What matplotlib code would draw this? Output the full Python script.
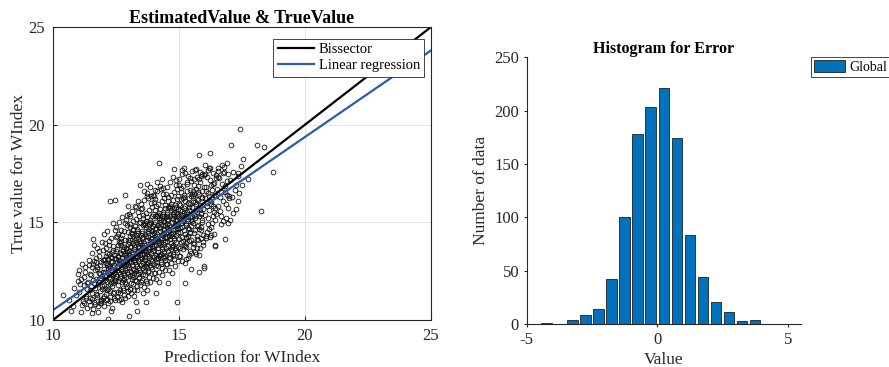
import numpy as np
import matplotlib.pyplot as plt

plt.rcParams['font.family'] = ['Liberation Serif', 'DejaVu Serif']
plt.rcParams['axes.unicode_minus'] = False

# prediction / true value pairs for WIndex
pts = """
10.40 11.28 11.00 12.37 11.55 10.34 11.45 10.77 11.32 11.11 11.49 11.74 11.85 10.89
11.59 14.16 11.74 13.70 12.29 10.46 12.17 10.03 13.01 10.20 13.35 10.48 13.70 10.94
13.30 10.92 13.04 11.60 14.93 10.92 15.22 11.91 13.57 11.40 14.10 11.40 14.56 11.91
12.27 16.09 12.48 16.14 12.85 16.38 12.97 15.84 13.46 16.89 13.75 16.95 14.04 16.64
13.72 16.35 14.20 18.05 14.80 17.71 15.13 17.68 15.20 17.80 15.62 17.66 15.87 17.37
15.78 18.45 16.24 18.55 16.21 17.80 16.54 17.80 16.91 18.02 16.74 17.54 17.07 18.98
17.43 19.80 18.10 18.98 18.37 18.86 17.53 18.26 18.75 17.56 17.35 17.51 17.28 16.89
17.51 16.89 17.72 17.22 16.65 16.55 17.00 16.35 17.36 16.11 17.14 15.49 17.03 15.12
16.94 14.98 18.26 15.56 16.83 14.16 16.41 13.79 16.28 14.37 16.08 14.32 15.59 13.87
15.72 13.70 15.29 13.11 15.48 12.59 15.81 12.47 16.00 12.76 16.00 12.65
10.62 11.05 10.78 10.71 10.85 11.62 10.93 11.30 10.70 10.45 10.98 12.02
11.05 11.42 11.12 12.10 11.18 10.95 11.22 11.78 11.27 12.45 11.31 11.21 11.36 10.62
11.40 11.95 11.44 12.80 11.48 11.55 11.08 11.86 11.15 10.78 11.25 12.20 11.33 11.60
11.42 10.98 11.47 12.35
11.03 12.55 11.10 10.40 11.17 12.85 11.23 10.85 11.29 12.70 11.35 11.90 11.41 13.05
11.46 11.15
11.52 12.30 11.55 11.40 11.58 12.85 11.61 11.92 11.63 10.90 11.66 12.55 11.68 11.65
11.70 13.20 11.72 12.10 11.74 11.20 11.76 12.72 11.78 11.85 11.80 10.70 11.82 12.40
11.84 13.55 11.86 11.50 11.88 12.15 11.90 11.05 11.92 12.95 11.94 12.25 11.96 11.75
11.98 13.05 11.53 11.10 11.57 12.05 11.64 13.00 11.69 11.35 11.75 12.60 11.81 11.95
11.87 12.80 11.91 10.85 11.95 11.60 11.99 12.45
11.53 13.45 11.58 10.55 11.62 13.85 11.67 10.80 11.71 12.95 11.77 10.40 11.83 13.30
11.89 10.95 11.93 14.00 11.97 11.15 11.56 12.70 11.73 11.30 11.85 12.35 11.99 13.60
12.02 12.60 12.04 11.80 12.06 13.10 12.08 12.25 12.10 11.35 12.12 12.90 12.14 11.95
12.16 13.45 12.18 12.40 12.20 11.60 12.22 12.75 12.24 13.85 12.26 12.10 12.28 11.20
12.30 12.55 12.32 13.25 12.34 11.75 12.36 12.95 12.38 12.30 12.40 13.60 12.42 11.45
12.44 12.70 12.46 12.05 12.48 13.15 12.03 11.25 12.07 12.45 12.11 13.70 12.15 11.55
12.19 12.85 12.23 12.20 12.27 10.95 12.31 13.00 12.35 12.50 12.39 11.90 12.43 13.35
12.47 12.15 12.05 12.05 12.09 13.30 12.13 11.10 12.17 12.65 12.21 14.05 12.25 11.85
12.29 12.35 12.33 13.50 12.37 11.40 12.41 12.80 12.45 12.00 12.49 14.25
12.01 14.40 12.04 10.70 12.08 13.95 12.12 11.05 12.16 14.55 12.19 10.85 12.23 13.40
12.27 11.50 12.31 14.20 12.35 10.60 12.39 13.80 12.43 11.15 12.47 14.60 12.02 13.05
12.06 11.65 12.14 12.80 12.20 13.10 12.26 12.65 12.32 11.95 12.38 14.95 12.44 12.40
12.48 11.00 12.12 12.30 12.36 13.20
12.51 13.10 12.52 12.25 12.54 13.65 12.55 12.70 12.57 11.80 12.58 13.30 12.60 12.45
12.61 14.00 12.63 12.90 12.64 11.55 12.66 13.45 12.67 12.15 12.69 13.85 12.70 12.60
12.72 11.95 12.73 13.20 12.75 14.35 12.76 12.80 12.78 12.05 12.79 13.55 12.81 12.40
12.82 11.30 12.84 13.00 12.85 14.10 12.87 12.55 12.88 13.70 12.90 12.20 12.91 13.35
12.93 11.70 12.94 12.95 12.96 14.50 12.97 13.15 12.99 12.35 12.53 12.95 12.56 14.30
12.59 11.45 12.62 13.05 12.65 12.35 12.68 14.60 12.71 13.40 12.74 12.50 12.77 11.65
12.80 13.75 12.83 12.85 12.86 11.95 12.89 13.25 12.92 14.85 12.95 12.65 12.98 13.90
12.52 13.55 12.58 12.00 12.64 13.95 12.70 11.10 12.76 13.65 12.82 12.30 12.88 15.10
12.94 13.50 12.99 11.50
12.51 14.75 12.54 11.20 12.57 14.40 12.60 11.00 12.63 15.00 12.66 11.40 12.69 14.20
12.72 10.90 12.75 15.25 12.78 11.55 12.81 14.55 12.84 11.15 12.87 14.95 12.90 11.85
12.93 15.40 12.96 11.25 12.99 14.10 12.53 12.55 12.59 13.85 12.65 12.85 12.71 14.05
12.77 13.00 12.83 12.10 12.89 13.65 12.95 12.45 12.57 13.25 12.69 12.25 12.81 13.40
12.93 13.05 12.99 12.80
13.01 13.55 13.02 12.70 13.04 14.10 13.05 13.20 13.07 12.25 13.08 13.80 13.10 12.95
13.11 14.45 13.13 13.40 13.14 12.10 13.16 13.95 13.17 12.60 13.19 14.30 13.20 13.05
13.22 12.40 13.23 13.65 13.25 14.80 13.26 13.25 13.28 12.50 13.29 14.00 13.31 12.85
13.32 11.75 13.34 13.45 13.35 14.55 13.37 13.00 13.38 14.15 13.40 12.65 13.41 13.75
13.43 12.15 13.44 13.35 13.46 15.00 13.47 13.60 13.49 12.80 13.03 13.40 13.06 14.75
13.09 11.90 13.12 13.50 13.15 12.80 13.18 15.05 13.21 13.85 13.24 12.95 13.27 12.05
13.30 14.20 13.33 13.30 13.36 12.35 13.39 13.70 13.42 15.35 13.45 13.10 13.48 14.35
13.02 14.00 13.08 12.45 13.14 14.40 13.20 11.55 13.26 14.10 13.32 12.75 13.38 15.55
13.44 13.95 13.49 11.95 13.05 15.30 13.17 13.15 13.29 15.80 13.41 12.55 13.13 12.30
13.35 14.65
13.01 15.45 13.04 11.60 13.07 14.90 13.10 11.40 13.13 15.60 13.16 11.85 13.19 14.65
13.22 11.25 13.25 15.85 13.28 12.00 13.31 15.15 13.34 11.55 13.37 16.10 13.40 12.20
13.43 14.95 13.46 11.80 13.49 15.70 13.02 12.95 13.06 14.30 13.11 13.25 13.16 14.60
13.21 12.55 13.26 13.75 13.31 14.35 13.36 13.55 13.41 14.05 13.46 12.45 13.04 13.75
13.18 12.20 13.27 13.05 13.39 14.45 13.48 13.25
13.51 14.00 13.52 13.15 13.54 14.55 13.55 13.60 13.57 12.65 13.58 14.25 13.60 13.40
13.61 14.90 13.63 13.85 13.64 12.50 13.66 14.40 13.67 13.05 13.69 14.75 13.70 13.50
13.72 12.85 13.73 14.10 13.75 15.25 13.76 13.70 13.78 12.95 13.79 14.45 13.81 13.30
13.82 12.20 13.84 13.90 13.85 15.00 13.87 13.45 13.88 14.60 13.90 13.10 13.91 14.20
13.93 12.60 13.94 13.80 13.96 15.45 13.97 14.05 13.99 13.25 13.53 13.85 13.56 15.20
13.59 12.35 13.62 13.95 13.65 13.25 13.68 15.50 13.71 14.30 13.74 13.40 13.77 12.50
13.80 14.65 13.83 13.75 13.86 12.80 13.89 14.15 13.92 15.80 13.95 13.55 13.98 14.80
13.52 14.45 13.58 12.90 13.64 14.85 13.70 12.00 13.76 14.55 13.82 13.20 13.88 16.00
13.94 14.40 13.99 12.40 13.55 15.75 13.67 13.60 13.79 16.25 13.91 13.00 13.63 12.75
13.85 15.10 13.73 11.90 13.97 16.40
13.51 15.95 13.54 12.05 13.57 15.40 13.60 11.70 13.63 16.15 13.66 12.30 13.69 15.05
13.72 11.55 13.75 16.50 13.78 12.45 13.81 15.65 13.84 11.95 13.87 16.35 13.90 12.70
13.93 15.30 13.96 12.15 13.99 16.05 13.52 13.35 13.56 14.85 13.61 13.70 13.66 14.95
13.71 12.90 13.76 14.25 13.81 14.90 13.86 14.05 13.91 14.55 13.96 12.85 13.54 14.20
13.68 12.75 13.77 13.55 13.89 14.95 13.98 13.70 13.62 16.60 13.84 16.80
14.01 14.45 14.02 13.60 14.04 15.00 14.05 14.05 14.07 13.10 14.08 14.70 14.10 13.85
14.11 15.35 14.13 14.30 14.14 12.95 14.16 14.85 14.17 13.50 14.19 15.20 14.20 13.95
14.22 13.30 14.23 14.55 14.25 15.70 14.26 14.15 14.28 13.40 14.29 14.90 14.31 13.75
14.32 12.65 14.34 14.35 14.35 15.45 14.37 13.90 14.38 15.05 14.40 13.55 14.41 14.65
14.43 13.05 14.44 14.25 14.46 15.90 14.47 14.50 14.49 13.70 14.03 14.30 14.06 15.65
14.09 12.80 14.12 14.40 14.15 13.70 14.18 15.95 14.21 14.75 14.24 13.85 14.27 12.95
14.30 15.10 14.33 14.20 14.36 13.25 14.39 14.60 14.42 16.25 14.45 14.00 14.48 15.25
14.02 14.90 14.08 13.35 14.14 15.30 14.20 12.45 14.26 15.00 14.32 13.65 14.38 16.45
14.44 14.85 14.49 12.85 14.05 16.20 14.17 14.05 14.29 16.70 14.41 13.45 14.13 13.20
14.35 15.55
14.01 16.35 14.04 12.40 14.07 15.85 14.10 12.10 14.13 16.60 14.16 12.75 14.19 15.50
14.22 11.95 14.25 16.85 14.28 12.85 14.31 16.10 14.34 12.30 14.37 16.75 14.40 13.15
14.43 15.75 14.46 12.55 14.49 16.45 14.02 13.80 14.06 15.30 14.11 14.15 14.16 15.40
14.21 13.35 14.26 14.70 14.31 15.35 14.36 14.45 14.41 15.00 14.46 13.30 14.04 14.65
14.18 13.20 14.27 14.00 14.39 15.35 14.48 14.20 14.12 17.05 14.33 17.20
14.51 14.90 14.52 14.05 14.54 15.45 14.55 14.50 14.57 13.55 14.58 15.15 14.60 14.30
14.61 15.80 14.63 14.75 14.64 13.40 14.66 15.30 14.67 13.95 14.69 15.65 14.70 14.40
14.72 13.75 14.73 15.00 14.75 16.15 14.76 14.60 14.78 13.85 14.79 15.35 14.81 14.20
14.82 13.10 14.84 14.80 14.85 15.90 14.87 14.35 14.88 15.50 14.90 14.00 14.91 15.10
14.93 13.50 14.94 14.70 14.96 16.35 14.97 14.95 14.99 14.15 14.53 14.75 14.56 16.10
14.59 13.25 14.62 14.85 14.65 14.15 14.68 16.40 14.71 15.20 14.74 14.30 14.77 13.40
14.80 15.55 14.83 14.65 14.86 13.70 14.89 15.05 14.92 16.70 14.95 14.45 14.98 15.70
14.52 15.35 14.58 13.80 14.64 15.75 14.70 12.90 14.76 15.45 14.82 14.10 14.88 16.90
14.94 15.30 14.99 13.30
14.51 16.80 14.54 12.85 14.57 16.30 14.60 12.55 14.63 17.05 14.66 13.20 14.69 15.95
14.72 12.40 14.75 17.30 14.78 13.30 14.81 16.55 14.84 12.75 14.87 17.15 14.90 13.60
14.93 16.20 14.96 13.00 14.99 16.90 14.52 14.25 14.56 15.75 14.61 14.60 14.66 15.85
14.71 13.80 14.76 15.15 14.81 15.75 14.86 14.90 14.91 15.45 14.96 13.75 14.54 15.10
14.68 13.65 14.77 14.45 14.89 15.80 14.98 14.65
15.01 15.35 15.03 14.50 15.05 15.90 15.07 14.95 15.09 14.00 15.11 15.60 15.13 14.75
15.15 16.25 15.17 15.20 15.19 13.85 15.21 15.75 15.23 14.40 15.25 16.10 15.27 14.85
15.29 14.20 15.31 15.45 15.33 16.60 15.35 15.05 15.37 14.30 15.39 15.80 15.41 14.65
15.43 13.55 15.45 15.25 15.47 16.35 15.49 14.80 15.02 15.95 15.04 13.70 15.06 15.15
15.08 16.55 15.10 14.25 15.12 15.40 15.14 14.05 15.16 16.85 15.18 15.50 15.20 14.60
15.22 13.80 15.24 15.85 15.26 14.95 15.28 13.95 15.30 15.30 15.32 17.05 15.34 14.70
15.36 16.00 15.38 13.35 15.40 15.65 15.42 14.45 15.44 17.25 15.46 15.10 15.48 14.10
15.50 16.45
15.01 17.20 15.04 13.30 15.07 16.75 15.10 13.00 15.13 17.45 15.16 13.65 15.19 16.40
15.22 12.90 15.25 17.55 15.28 13.75 15.31 16.95 15.34 13.15 15.37 17.35 15.40 14.05
15.43 16.65 15.46 13.45 15.49 17.10 15.03 14.70 15.08 16.20 15.14 15.05 15.20 16.30
15.26 14.25 15.32 15.55 15.38 16.25 15.44 14.50 15.06 15.65 15.24 15.30 15.42 15.95
15.52 15.80 15.54 14.95 15.56 16.35 15.58 15.40 15.60 14.45 15.62 16.05 15.64 15.20
15.66 16.70 15.68 15.65 15.70 14.30 15.72 16.20 15.74 14.85 15.76 16.55 15.78 15.30
15.80 14.65 15.82 15.90 15.84 17.05 15.86 15.50 15.88 14.75 15.90 16.25 15.92 15.10
15.94 14.00 15.96 15.70 15.98 16.80 15.53 15.25 15.57 13.95 15.61 16.90 15.65 14.60
15.69 15.95 15.73 17.30 15.77 14.10 15.81 16.45 15.85 13.70 15.89 15.45 15.93 17.50
15.97 14.35 15.55 16.60 15.67 13.40 15.79 17.20 15.91 15.00
15.51 17.65 15.55 13.75 15.59 17.20 15.63 13.50 15.67 17.75 15.71 14.15 15.75 16.85
15.79 13.35 15.83 17.60 15.87 14.20 15.91 16.60 15.95 13.85 15.99 17.40 15.53 15.05
15.61 16.45 15.69 15.35 15.77 16.15 15.85 15.70 15.93 16.30 15.57 16.05 15.73 14.80
15.89 14.60
16.02 16.25 16.05 15.40 16.08 16.80 16.11 15.85 16.14 14.90 16.17 16.50 16.20 15.65
16.23 17.15 16.26 16.10 16.29 14.75 16.32 16.65 16.35 15.30 16.38 17.00 16.41 15.75
16.44 15.10 16.47 16.35 16.04 17.45 16.10 14.50 16.16 17.70 16.22 14.25 16.28 15.95
16.34 17.55 16.40 14.40 16.46 17.25 16.13 16.00 16.37 15.55
16.03 17.95 16.07 14.20 16.12 17.30 16.18 14.65 16.24 17.80 16.30 14.95 16.36 16.95
16.42 13.85 16.48 17.40 16.06 16.60 16.15 15.20 16.21 16.35 16.27 16.90 16.33 15.85
16.39 16.40 16.45 15.45
16.52 16.70 16.56 15.85 16.60 17.25 16.64 16.30 16.68 15.35 16.72 16.95 16.76 16.10
16.80 17.60 16.84 16.55 16.88 15.20 16.92 17.10 16.96 15.75 16.54 17.65 16.66 14.90
16.78 17.85 16.90 16.40
16.55 17.30 16.62 15.60 16.70 17.95 16.74 15.05 16.82 16.85 16.86 15.95 16.94 17.45
16.98 16.25
17.04 17.15 17.10 16.30 17.16 17.60 17.22 16.65 17.28 15.70 17.34 17.35 17.40 16.50
17.46 17.90
"""
xy = np.array(pts.split(), dtype=float).reshape(-1, 2)
pred = xy[:, 0]
true = xy[:, 1]

# fitted regression line
slope = 0.886
intercept = 1.65
line_x = [10, 25]

# error histogram
bin_centers = [-4.25, -3.75, -3.25, -2.75, -2.25, -1.75, -1.25, -0.75, -0.25,
               0.25, 0.75, 1.25, 1.75, 2.25, 2.75, 3.25, 3.75]
counts = [1, 0, 4, 8, 14, 42, 100, 178, 203, 221, 174, 83, 44, 21, 11, 3, 4]

fig = plt.figure(figsize=(8.89, 3.67), dpi=100)

ax1 = fig.add_axes([0.0596, 0.128, 0.4252, 0.7984])
ax1.plot(pred, true, 'o', mfc='none', mec='#111111', ms=3.4, mew=0.6)
b, = ax1.plot(line_x, line_x, color='black', lw=1.6, label='Bissector')
r, = ax1.plot(line_x, [slope * v + intercept for v in line_x], color='#2B5BAE',
              lw=1.6, label='Linear regression')
ax1.set_xlim(10, 25)
ax1.set_ylim(10, 25)
ax1.set_xticks([10, 15, 20, 25])
ax1.set_yticks([10, 15, 20, 25])
ax1.grid(True, color='#e3e3e3', lw=0.7)
ax1.set_axisbelow(True)
ax1.tick_params(direction='in', labelsize=12, length=3, colors='#262626', pad=6)
ax1.set_xlabel('Prediction for WIndex', fontsize=12.5, color='#262626', labelpad=4)
ax1.set_ylabel('True value for WIndex', fontsize=12.5, color='#262626', labelpad=1)
ax1.set_title('EstimatedValue & TrueValue', fontsize=13, fontweight='bold', pad=3)
for s in ax1.spines.values():
    s.set_color('#262626')
    s.set_linewidth(0.8)
leg = ax1.legend(handles=[b, r], loc='upper right', bbox_to_anchor=(0.982, 0.96),
                 fontsize=10.5, fancybox=False, edgecolor='#262626', framealpha=1,
                 handlelength=2.5, handletextpad=0.3, borderpad=0.3,
                 labelspacing=0.2, borderaxespad=0)
leg.get_frame().set_linewidth(0.6)

ax2 = fig.add_axes([0.5925, 0.1172, 0.3082, 0.7267])
bars = ax2.bar(bin_centers, counts, width=0.4, color='#0072BD',
               edgecolor='#202020', lw=0.6, label='Global')
ax2.set_xlim(-5, 5.5)
ax2.set_ylim(0, 250)
ax2.set_xticks([-5, 0, 5])
ax2.set_yticks([0, 50, 100, 150, 200, 250])
ax2.tick_params(direction='out', labelsize=12, length=2.5, colors='#262626', pad=3)
ax2.spines['top'].set_visible(False)
ax2.spines['right'].set_visible(False)
for s in ['left', 'bottom']:
    ax2.spines[s].set_color('#262626')
    ax2.spines[s].set_linewidth(0.8)
ax2.set_xlabel('Value', fontsize=12.5, color='#262626', labelpad=3)
ax2.set_ylabel('Number of data', fontsize=12.5, color='#262626', labelpad=4)
ax2.set_title('Histogram for Error', fontsize=11.5, fontweight='bold', pad=3)
leg2 = fig.legend(handles=[bars], loc='upper left', bbox_to_anchor=(0.912, 0.845),
                  fontsize=10, fancybox=False, edgecolor='#262626', framealpha=1,
                  handlelength=2.2, handleheight=0.9, borderpad=0.25, handletextpad=0.3,
                  borderaxespad=0)
leg2.get_frame().set_linewidth(0.6)

fig.savefig('out.png', dpi=100)
